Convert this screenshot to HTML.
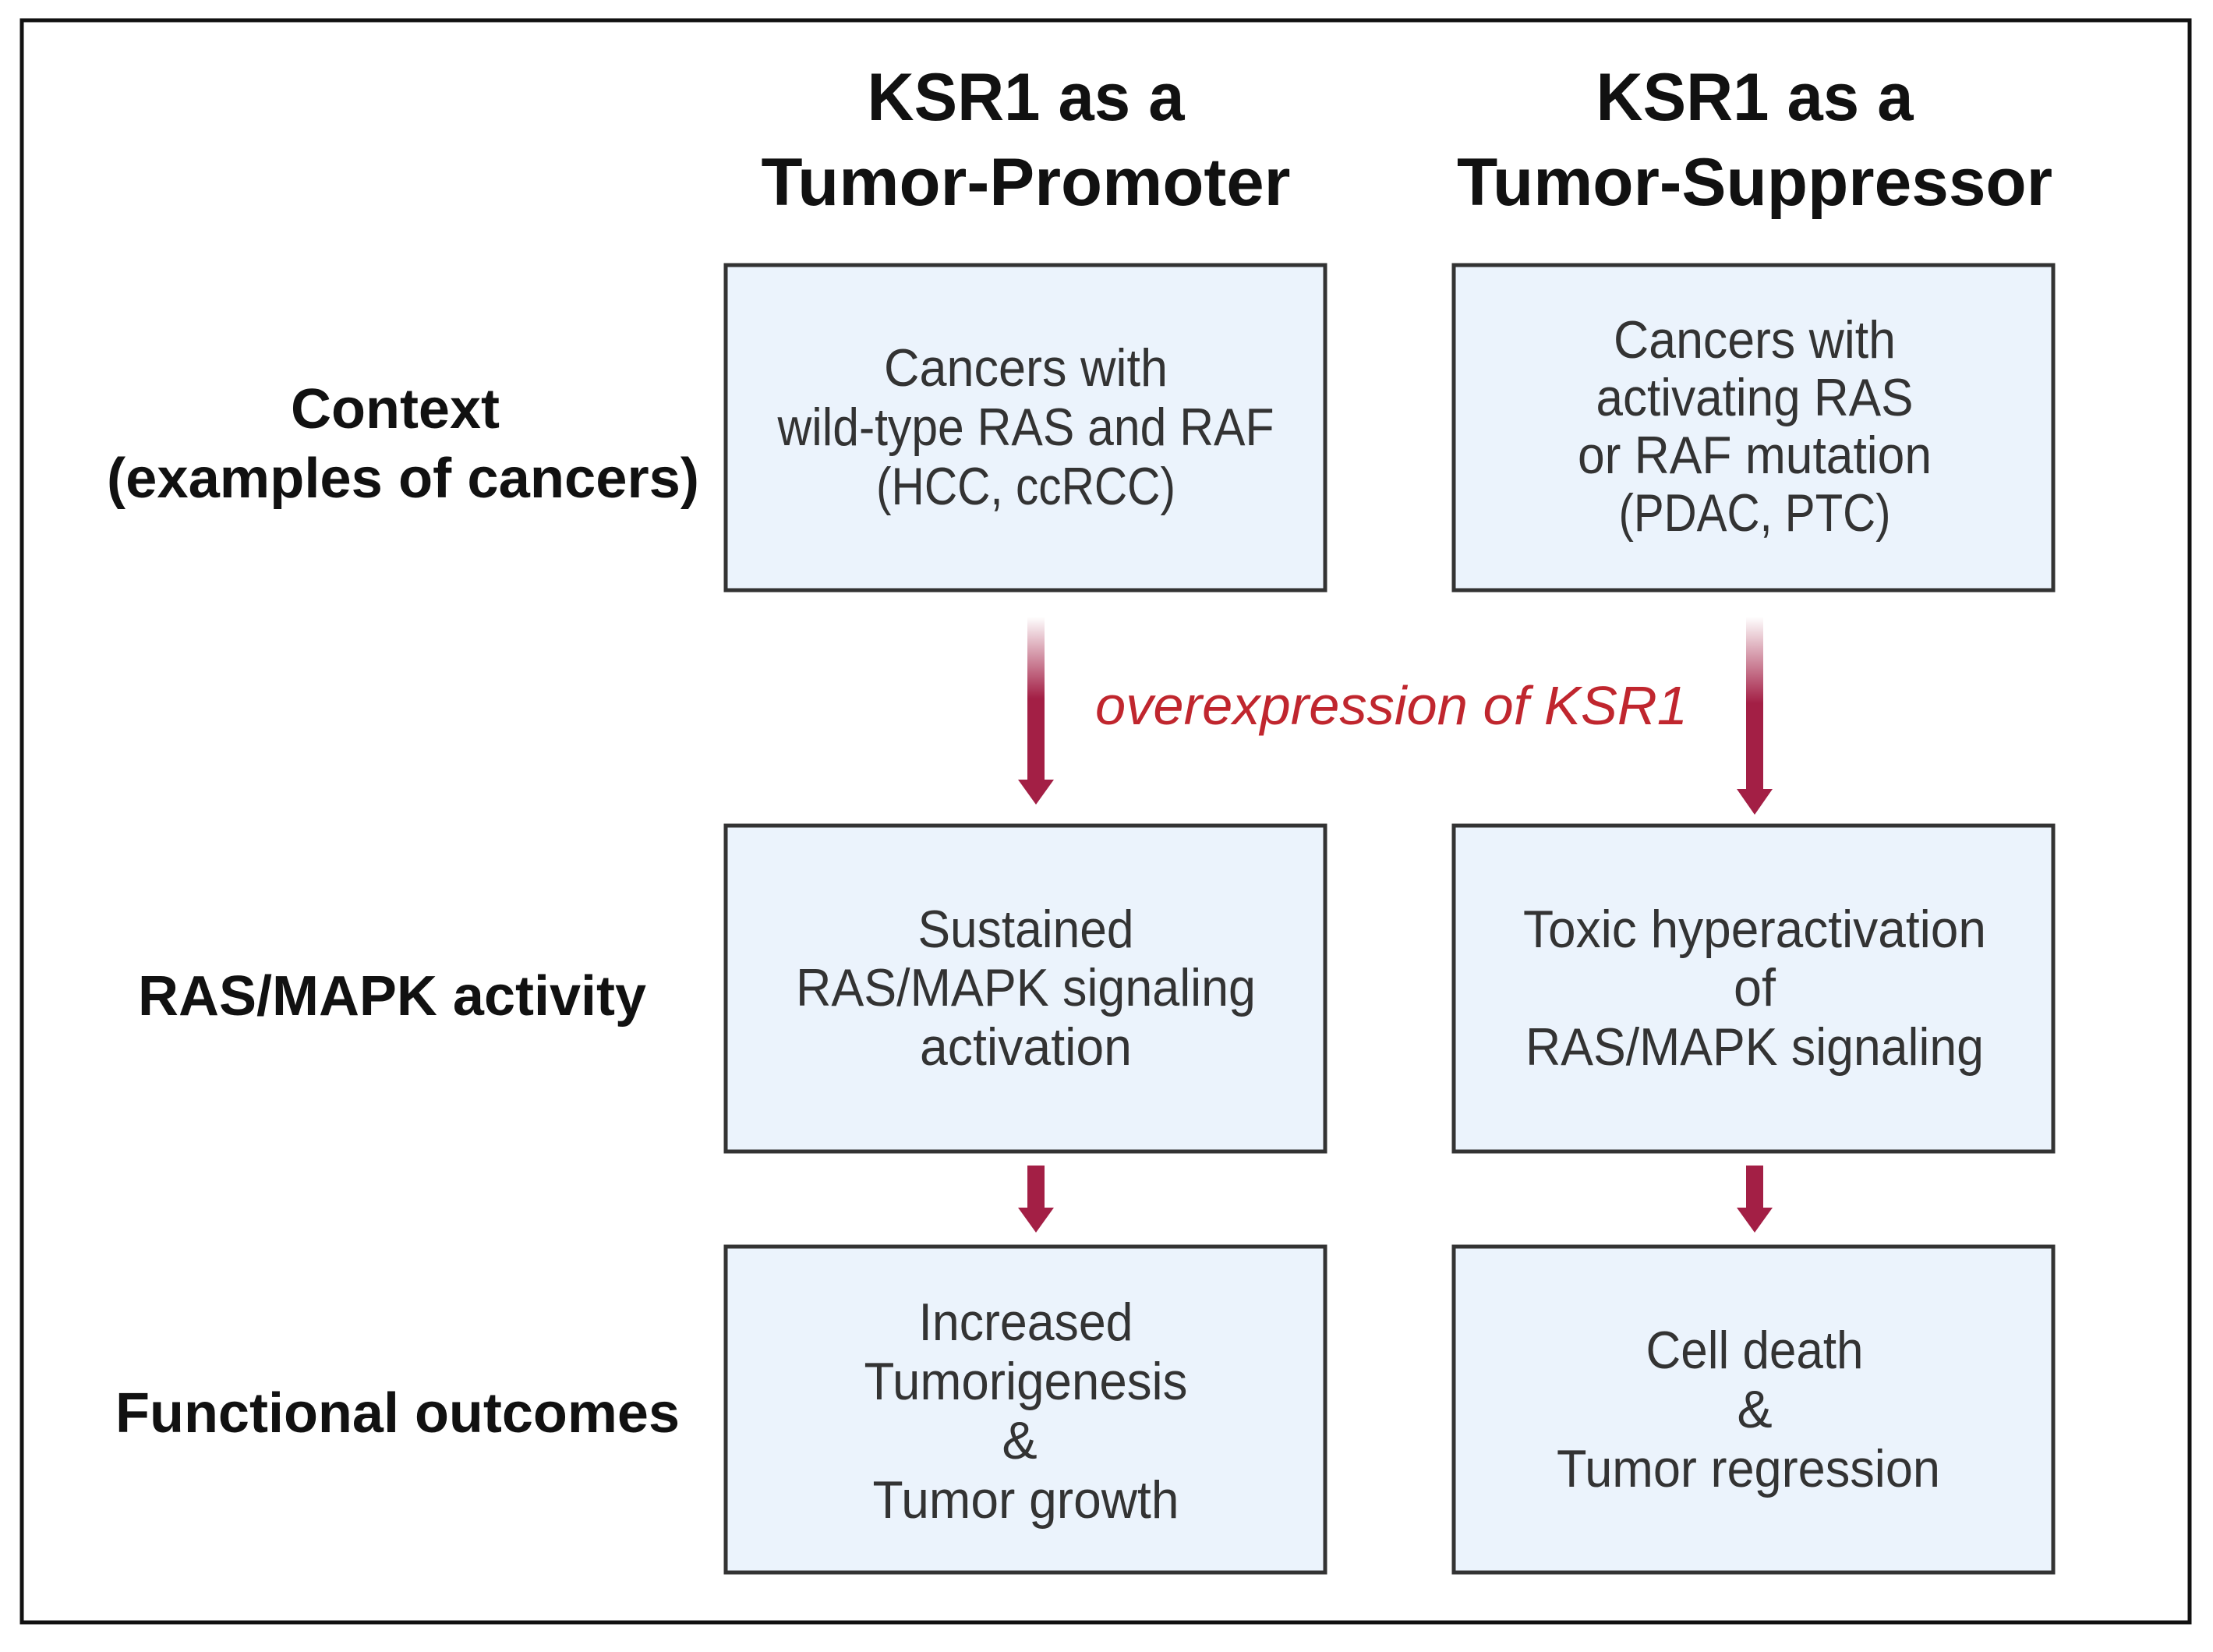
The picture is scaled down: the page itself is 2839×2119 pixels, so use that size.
<!DOCTYPE html>
<html><head><meta charset="utf-8"><style>
html,body{margin:0;padding:0;background:#fff}
svg{display:block}
text{font-family:"Liberation Sans",sans-serif}
.t{font-weight:bold;font-size:86px;fill:#111}
.l{font-weight:bold;font-size:72px;fill:#111}
.b{font-size:68px;fill:#333}
</style></head><body>
<svg width="2839" height="2119" viewBox="0 0 2839 2119" xmlns="http://www.w3.org/2000/svg">
<defs>
<linearGradient id="g" x1="0" y1="0" x2="0" y2="1">
<stop offset="0" stop-color="#a31f45" stop-opacity="0"/>
<stop offset="0.5" stop-color="#a31f45" stop-opacity="1"/>
<stop offset="1" stop-color="#a31f45"/>
</linearGradient>
</defs>
<rect x="0" y="0" width="2839" height="2119" fill="#fff"/>
<rect x="28" y="26" width="2781" height="2055" fill="none" stroke="#111" stroke-width="5"/>

<g text-anchor="middle">
<text class="t" x="1316" y="154" textLength="407" lengthAdjust="spacingAndGlyphs">KSR1 as a</text>
<text class="t" x="1316" y="263" textLength="679" lengthAdjust="spacingAndGlyphs">Tumor-Promoter</text>
<text class="t" x="2251" y="154" textLength="407" lengthAdjust="spacingAndGlyphs">KSR1 as a</text>
<text class="t" x="2251" y="263" textLength="764" lengthAdjust="spacingAndGlyphs">Tumor-Suppressor</text>

<text class="l" x="507" y="549" textLength="268" lengthAdjust="spacingAndGlyphs">Context</text>
<text class="l" x="517" y="638" textLength="760" lengthAdjust="spacingAndGlyphs">(examples of cancers)</text>
<text class="l" x="503" y="1302" textLength="652" lengthAdjust="spacingAndGlyphs">RAS/MAPK activity</text>
<text class="l" x="510" y="1837" textLength="724" lengthAdjust="spacingAndGlyphs">Functional outcomes</text>
</g>

<g fill="#ebf3fc" stroke="#333" stroke-width="5">
<rect x="931" y="340" width="769" height="417"/>
<rect x="1865" y="340" width="769" height="417"/>
<rect x="931" y="1059" width="769" height="418"/>
<rect x="1865" y="1059" width="769" height="418"/>
<rect x="931" y="1599" width="769" height="418"/>
<rect x="1865" y="1599" width="769" height="418"/>
</g>

<g text-anchor="middle" class="b">
<text class="b" x="1316" y="495" textLength="364" lengthAdjust="spacingAndGlyphs">Cancers with</text>
<text class="b" x="1316" y="571" textLength="637" lengthAdjust="spacingAndGlyphs">wild-type RAS and RAF</text>
<text class="b" x="1316" y="647" textLength="384" lengthAdjust="spacingAndGlyphs">(HCC, ccRCC)</text>

<text class="b" x="2251" y="459" textLength="362" lengthAdjust="spacingAndGlyphs">Cancers with</text>
<text class="b" x="2251" y="533" textLength="407" lengthAdjust="spacingAndGlyphs">activating RAS</text>
<text class="b" x="2251" y="607" textLength="454" lengthAdjust="spacingAndGlyphs">or RAF mutation</text>
<text class="b" x="2251" y="681" textLength="349" lengthAdjust="spacingAndGlyphs">(PDAC, PTC)</text>

<text class="b" x="1316" y="1215" textLength="277" lengthAdjust="spacingAndGlyphs">Sustained</text>
<text class="b" x="1316" y="1290" textLength="590" lengthAdjust="spacingAndGlyphs">RAS/MAPK signaling</text>
<text class="b" x="1316" y="1366" textLength="272" lengthAdjust="spacingAndGlyphs">activation</text>

<text class="b" x="2251" y="1215" textLength="594" lengthAdjust="spacingAndGlyphs">Toxic hyperactivation</text>
<text class="b" x="2251" y="1290" textLength="54" lengthAdjust="spacingAndGlyphs">of</text>
<text class="b" x="2251" y="1366" textLength="588" lengthAdjust="spacingAndGlyphs">RAS/MAPK signaling</text>

<text class="b" x="1316" y="1719" textLength="275" lengthAdjust="spacingAndGlyphs">Increased</text>
<text class="b" x="1316" y="1795" textLength="415" lengthAdjust="spacingAndGlyphs">Tumorigenesis</text>
<text class="b" x="1308" y="1871">&amp;</text>
<text class="b" x="1316" y="1947" textLength="393" lengthAdjust="spacingAndGlyphs">Tumor growth</text>

<text class="b" x="2251" y="1755" textLength="279" lengthAdjust="spacingAndGlyphs">Cell death</text>
<text class="b" x="2251" y="1831">&amp;</text>
<text class="b" x="2243" y="1907" textLength="492" lengthAdjust="spacingAndGlyphs">Tumor regression</text>
</g>

<text x="1785" y="929" text-anchor="middle" font-style="italic" font-size="70" fill="#c0262e" textLength="760" lengthAdjust="spacingAndGlyphs">overexpression of KSR1</text>

<!-- long arrows -->
<rect x="1318" y="791" width="22" height="210" fill="url(#g)"/>
<polygon points="1306,1000 1352,1000 1329,1032" fill="#a31f45"/>
<rect x="2240" y="791" width="22" height="222" fill="url(#g)"/>
<polygon points="2228,1012 2274,1012 2251,1045" fill="#a31f45"/>
<!-- short arrows -->
<rect x="1318" y="1495" width="22" height="55" fill="#a31f45"/>
<polygon points="1306,1549 1352,1549 1329,1581" fill="#a31f45"/>
<rect x="2240" y="1495" width="22" height="55" fill="#a31f45"/>
<polygon points="2228,1549 2274,1549 2251,1581" fill="#a31f45"/>
</svg>
</body></html>
